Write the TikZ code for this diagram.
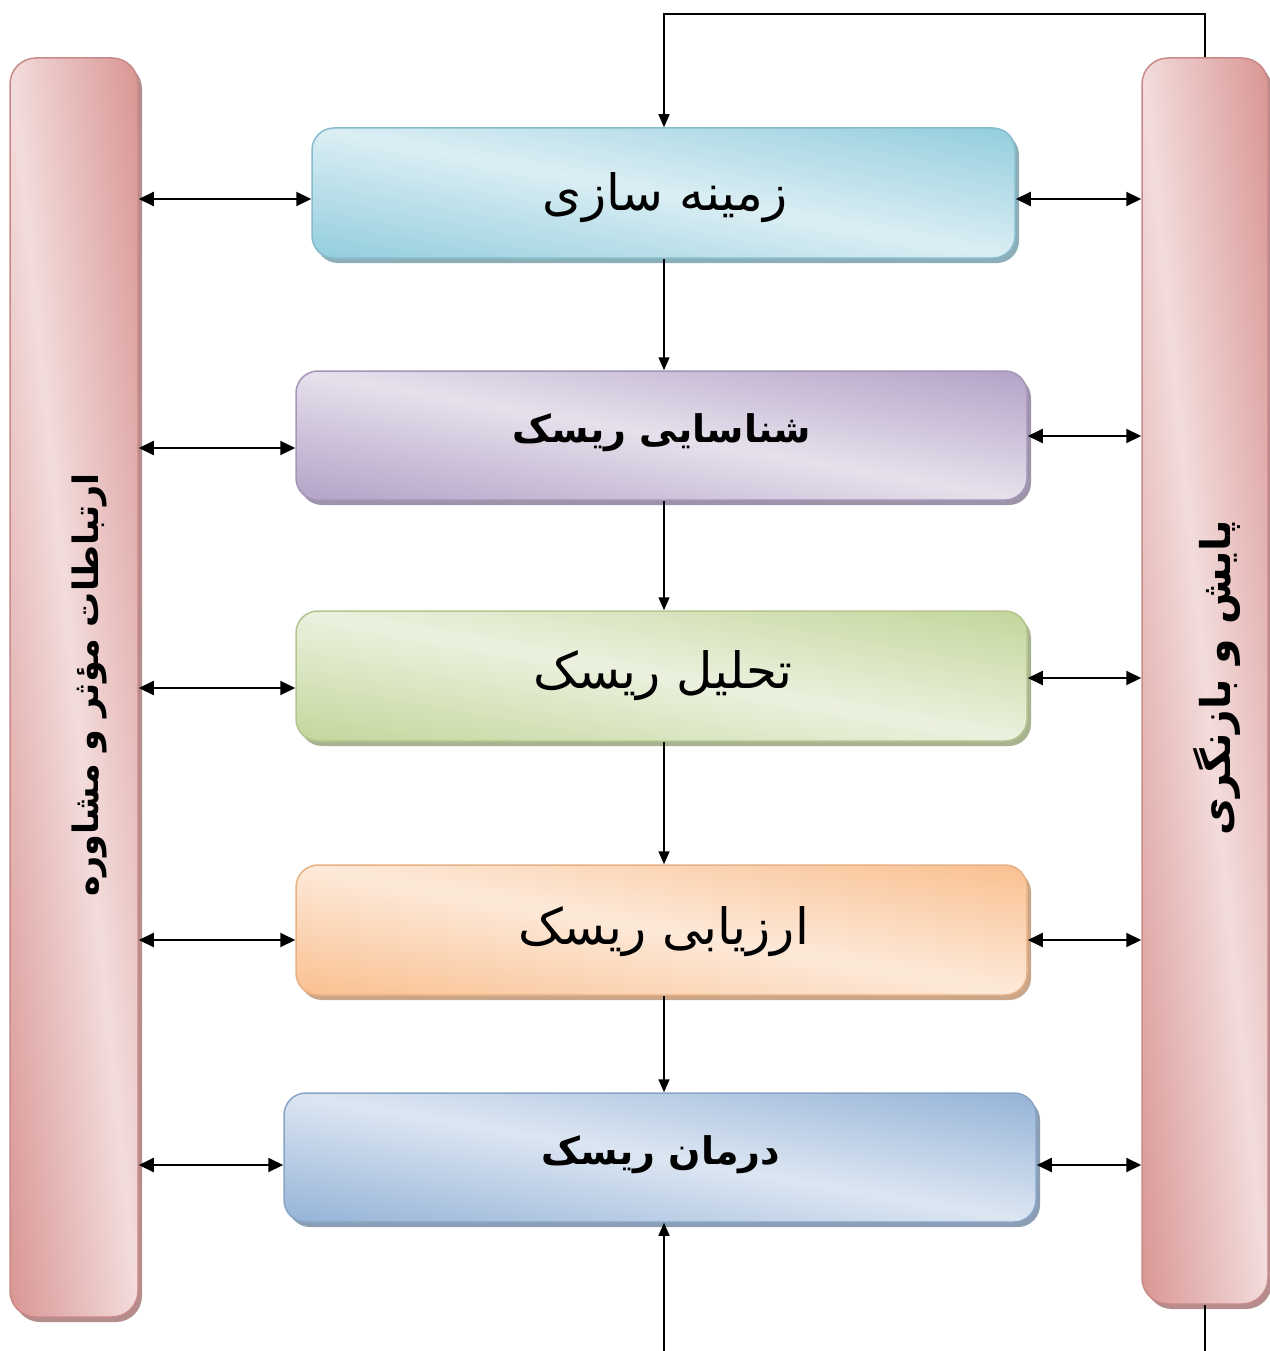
\documentclass[tikz,border=0pt]{standalone}
\usepackage{fontspec}
\usetikzlibrary{arrows.meta,shadows}
\newfontfamily\arabicfont[Script=Arabic]{DejaVu Sans}
\TeXXeTstate=1
\definecolor{barD}{HTML}{D99694}
\definecolor{baD}{HTML}{93CDDD}
\definecolor{bbD}{HTML}{B3A2C7}
\definecolor{bcD}{HTML}{C3D69B}
\definecolor{bdD}{HTML}{FAC090}
\definecolor{beD}{HTML}{95B3D7}
% diagonal gradient stretched over the shape: dark at top-right and bottom-left, light along the other diagonal
\newcommand\mkdiagshade[7]{\pgfdeclarefunctionalshading{sh#1}{\pgfpoint{-50bp}{-50bp}}{\pgfpoint{50bp}{50bp}}{}{add abs 50 div dup 1 gt {pop 1} if dup dup #2 #5 sub mul #5 add 3 1 roll #3 #6 sub mul #6 add exch #4 #7 sub mul #7 add}}
\mkdiagshade{bar}{0.851}{0.588}{0.580}{0.949}{0.863}{0.859}
\mkdiagshade{ba}{0.576}{0.804}{0.867}{0.859}{0.933}{0.957}
\mkdiagshade{bb}{0.702}{0.635}{0.780}{0.902}{0.878}{0.925}
\mkdiagshade{bc}{0.765}{0.839}{0.608}{0.922}{0.945}{0.871}
\mkdiagshade{bd}{0.980}{0.753}{0.565}{0.992}{0.914}{0.851}
\mkdiagshade{be}{0.584}{0.702}{0.843}{0.863}{0.902}{0.949}
\begin{document}
\begin{tikzpicture}[x=1pt,y=-1pt,
  stepbox/.style={rectangle, rounded corners=22pt, shade, shading=sh#1,
    draw=#1D!92!black, line width=1.5pt,
    drop shadow={shadow xshift=4pt, shadow yshift=-5pt, fill=#1D!60!gray, opacity=1},
    inner sep=0pt},
  barbox/.style={stepbox=bar, rounded corners=26pt},
  boxtxt/.style={font=\arabicfont\fontsize{50}{60}\selectfont},
  boxtxtb/.style={font=\arabicfont\bfseries\fontsize{38}{46}\selectfont},
  dbl/.style={{Triangle[length=15pt,width=14pt]}-{Triangle[length=15pt,width=14pt]}, line width=2pt},
  arr/.style={-{Triangle[length=13pt,width=11pt]}, line width=1.5pt},
  plain/.style={line width=1.5pt}]
\useasboundingbox (0,0) rectangle (1269,1351);
% side bars
\node[barbox, minimum width=128pt, minimum height=1259pt] (lbar) at (74,687.5) {};
\node[barbox, minimum width=126pt, minimum height=1246pt] (rbar) at (1205,681) {};
\node[rotate=90, font=\arabicfont\bfseries\fontsize{35}{42}\selectfont] (ltxt) at (89,685) {\beginR ارتباطات مؤثر و مشاوره\endR};
\node[rotate=90, font=\arabicfont\bfseries\fontsize{41}{48}\selectfont] (rtxt) at (1217,678) {\beginR پایش و بازنگری\endR};
% boxes
\node[stepbox=ba, minimum width=703pt, minimum height=130pt] (b1) at (663.5,193) {};
\node[stepbox=bb, minimum width=731pt, minimum height=129pt] (b2) at (661.5,435.5) {};
\node[stepbox=bc, minimum width=731pt, minimum height=130pt] (b3) at (661.5,676) {};
\node[stepbox=bd, minimum width=731pt, minimum height=130pt] (b4) at (661.5,930) {};
\node[stepbox=be, minimum width=752pt, minimum height=129pt] (b5) at (660,1157.5) {};
% box labels
\node[boxtxt] (t1) at (665,198) {\beginR زمینه سازی\endR};
\node[boxtxtb] (t2) at (662,433) {\beginR شناسایی ریسک\endR};
\node[boxtxt] (t3) at (663,676) {\beginR تحلیل ریسک\endR};
\node[boxtxt] (t4) at (664,932) {\beginR ارزیابی ریسک\endR};
\node[boxtxtb] (t5) at (661,1155) {\beginR درمان ریسک\endR};
% helper coordinates
\coordinate (col) at (664,0);
\coordinate (topc) at (664,14);
\coordinate (botl) at (664,1351);
\coordinate (botr) at (1205,1351);
% vertical flow
\draw[arr] (b1.south -| col) -- (b2.north -| col);
\draw[arr] (b2.south -| col) -- (b3.north -| col);
\draw[arr] (b3.south -| col) -- (b4.north -| col);
\draw[arr] (b4.south -| col) -- (b5.north -| col);
\draw[arr] (rbar.north) |- (topc) -- (b1.north -| col);
\draw[arr] (botl) -- (b5.south -| col);
\draw[plain] (rbar.south) -- (botr);
% left double arrows
\draw[dbl] (lbar.east |- 0,199) -- (b1.west |- 0,199);
\draw[dbl] (lbar.east |- 0,448) -- (b2.west |- 0,448);
\draw[dbl] (lbar.east |- 0,688) -- (b3.west |- 0,688);
\draw[dbl] (lbar.east |- 0,940) -- (b4.west |- 0,940);
\draw[dbl] (lbar.east |- 0,1165) -- (b5.west |- 0,1165);
% right double arrows
\draw[dbl] (b1.east |- 0,199) -- (rbar.west |- 0,199);
\draw[dbl] (b2.east |- 0,436) -- (rbar.west |- 0,436);
\draw[dbl] (b3.east |- 0,678) -- (rbar.west |- 0,678);
\draw[dbl] (b4.east |- 0,940) -- (rbar.west |- 0,940);
\draw[dbl] (b5.east |- 0,1165) -- (rbar.west |- 0,1165);
\end{tikzpicture}
\end{document}
